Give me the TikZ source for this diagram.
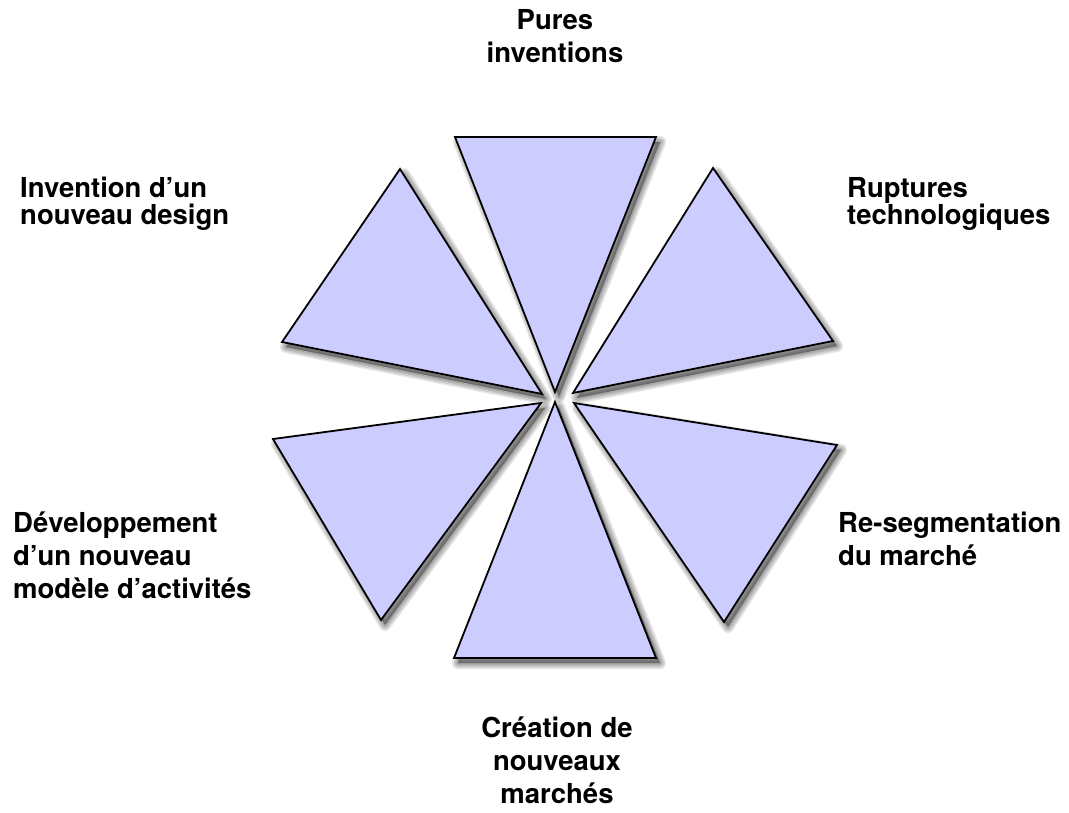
\documentclass[tikz,border=0pt]{standalone}
\usepackage{fontspec}
\setmainfont{TeX Gyre Heros}
\usepackage{tikz}
\definecolor{petalblue}{RGB}{204,204,255}
\tikzset{petal/.style={fill=petalblue, draw=black, line width=1.8pt, line join=miter}}
\tikzset{petalshadow/.style={fill=black, draw=black, opacity=0.1, line join=round}}
\tikzset{idea/.style={inner sep=0pt, font=\bfseries\fontsize{27.5}{26.6}\selectfont}}
\tikzset{ideawide/.style={inner sep=0pt, font=\bfseries\fontsize{27.5}{33}\selectfont}}
% one petal with its soft shadow
\newcommand{\petal}[3]{%
	\foreach \w in {12,9,6,3}
		\filldraw[petalshadow, line width=\w pt, shift={(4,5)}] #1 -- #2 -- #3 -- cycle;
	\filldraw[petal] #1 -- #2 -- #3 -- cycle;
}

\begin{document}
\begin{tikzpicture}[x=1pt,y=-1pt]
		\useasboundingbox (0,0) rectangle (1069,812);
		% the six petals
		\petal{(555,392)}{(455,137)}{(656,137)}
		\petal{(573,393)}{(713,168)}{(833,341)}
		\petal{(574,403)}{(837,445)}{(724,622)}
		\petal{(555,402)}{(656,658)}{(454,658)}
		\petal{(541,403)}{(381,620)}{(273,439)}
		\petal{(542,394)}{(282,342)}{(400,169)}
		% the labels (base = last line)
		\node[ideawide, anchor=base, align=center] (P) at (555,62) {Pures\\inventions};
		\node[idea, anchor=base west, align=left] (R) at (847,224) {Ruptures\\technologiques};
		\node[ideawide, anchor=base west, align=left] (S) at (838,565) {Re-segmentation\\du marché};
		\node[ideawide, anchor=base, align=center] (C) at (557,803) {Création de\\nouveaux\\marchés};
		\node[ideawide, anchor=base west, align=left] (D) at (13,598) {Développement\\d’un nouveau\\modèle d’activités};
		\node[idea, anchor=base west, align=left] (I) at (20,224) {Invention d’un\\nouveau design};
	\end{tikzpicture}
\end{document}
